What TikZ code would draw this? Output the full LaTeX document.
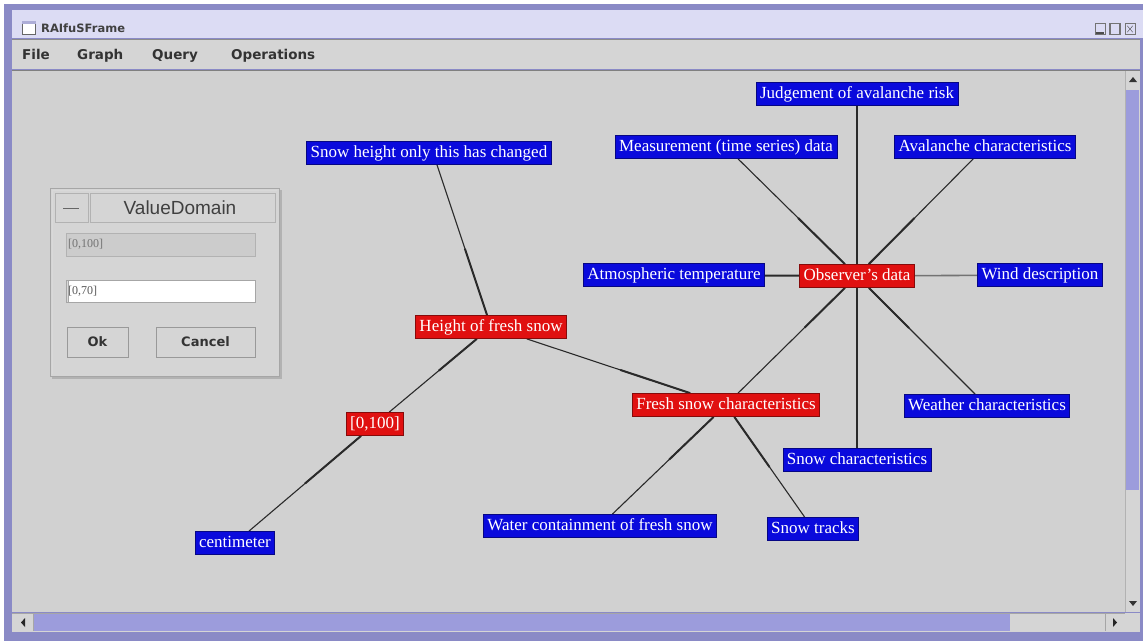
\documentclass[tikz,border=0pt]{standalone}
\usepackage{fontspec}
\setmainfont{Liberation Serif}
\setsansfont{Liberation Sans}
\newfontfamily\dejab{DejaVu Sans}
\usetikzlibrary{calc}
\definecolor{canvasc}{HTML}{D1D1D1}
\definecolor{chrome}{HTML}{D5D5D5}
\definecolor{lav}{HTML}{DCDCF4}
\definecolor{lavdark}{HTML}{8A8AC6}
\definecolor{thumbc}{HTML}{9C9CDC}
\definecolor{nblue}{HTML}{0A0ADC}
\definecolor{nred}{HTML}{E01010}
\definecolor{edgec}{HTML}{2A2A2A}
\pgfdeclarelayer{bg}
\pgfdeclarelayer{edges}
\pgfsetlayers{bg,edges,main}
\tikzset{
  gnode/.style={font=\fontsize{17}{19}\selectfont, text=white, inner xsep=4pt, inner ysep=0pt, minimum height=23pt, text height=11.5pt, text depth=3pt},
  bnode/.style={gnode, fill=nblue, draw=nblue!60!black, line width=0.8pt},
  rnode/.style={gnode, fill=nred, draw=nred!60!black, line width=0.8pt},
  thinedge/.style={draw=edgec, line width=1.1pt},
  thickedge/.style={draw=edgec, line width=2pt},
  greyedge/.style={draw=black!55, line width=1.6pt},
  menuitem/.style={font=\dejab\bfseries\fontsize{13.5}{15}\selectfont, text=black!80, inner sep=0pt, anchor=base west},
  btn/.style={draw=black!40, fill=chrome, line width=0.8pt},
  btntext/.style={font=\dejab\bfseries\fontsize{13}{15}\selectfont, text=black!80},
}
\begin{document}
\begin{tikzpicture}[x=1pt,y=-1pt]
\useasboundingbox (0,0) rectangle (1143,641);
\begin{pgfonlayer}{bg}
% window frame
\fill[white] (0,0) rectangle (1143,641);
\fill[lavdark] (4,4) rectangle (1143,641);
\fill[lav] (12,10) rectangle (1143,38);
\fill[chrome] (12,39) rectangle (1140,69);
\draw[black!45, line width=1pt] (12,39) -- (1140,39);
\draw[black!50, line width=1pt] (12,70) -- (1140,70);
\fill[canvasc] (12,71) rectangle (1125,612);
% title bar content
\node[draw=black!60, fill=white, minimum width=13pt, minimum height=13pt, inner sep=0pt, line width=0.8pt] (ticon) at (29,28) {};
\fill[lavdark!70] (ticon.north west) rectangle ($(ticon.north east)+(0,3)$);
\node[font=\dejab\bfseries\fontsize{11.5}{13}\selectfont, text=black!75, anchor=west, inner sep=0pt] (title) at (41,28) {RAIfuSFrame};
\node[draw=black!55, fill=lav, minimum width=10pt, minimum height=11pt, inner sep=0pt] (bmin) at (1100,29) {};
\draw[black!70, line width=1.5pt] ($(bmin.south west)+(1,-1.5)$) -- ($(bmin.south east)+(-1,-1.5)$);
\node[draw=black!55, fill=lav, minimum width=10pt, minimum height=11pt, inner sep=0pt, line width=1.4pt] (bmax) at (1115,29) {};
\node[draw=black!55, fill=lav, minimum width=10pt, minimum height=11pt, inner sep=0pt] (bclose) at (1130,29) {};
\draw[black!70] ($(bclose.north west)+(2.5,2.5)$) -- ($(bclose.south east)+(-2.5,-2.5)$);
\draw[black!70] ($(bclose.north east)+(-2.5,2.5)$) -- ($(bclose.south west)+(2.5,-2.5)$);
% menu
\node[menuitem] (mfile) at (22,59) {File};
\node[menuitem] (mgraph) at (77,59) {Graph};
\node[menuitem] (mquery) at (152,59) {Query};
\node[menuitem] (mops) at (231,59) {Operations};
% vertical scrollbar
\fill[chrome] (1125,71) rectangle (1140,612);
\fill[thumbc] (1126,90) rectangle (1139,490);
\draw[black!30] (1125,71) -- (1125,612);
\fill[black!80] (1129,82) -- (1137,82) -- (1133,77) -- cycle;
\fill[black!80] (1129,601) -- (1137,601) -- (1133,606) -- cycle;
% horizontal scrollbar
\fill[chrome] (12,613) rectangle (1125,632);
\fill[thumbc] (33,614) rectangle (1010,631);
\draw[black!35] (12,613) -- (1125,613);
\draw[black!35] (33,614) -- (33,631);
\draw[black!35] (1105,614) -- (1105,631);
\fill[black!85] (25,618) -- (25,627) -- (21,622.5) -- cycle;
\fill[black!85] (1113,618) -- (1113,627) -- (1117,622.5) -- cycle;
\fill[chrome] (1125,613) rectangle (1140,632);
% dialog
\fill[black!30] (52,190) rectangle (282,379);
\draw[black!35, fill=chrome, line width=1pt] (50,188) rectangle (279,376);
\draw[white!85!black, line width=1pt] (52,374) -- (52,190) -- (277,190);
\draw[black!30, fill=chrome] (55,193) rectangle (88,222);
\draw[black!30, fill=chrome] (90,193) rectangle (275,222);
\node[font=\fontsize{19}{21}\selectfont\sffamily, text=black!75] (dlgtitle) at (180,207.5) {ValueDomain};
\draw[black!60, line width=0.9pt] (63,208) -- (79,208);
\draw[black!30, fill=black!20] (66,233) rectangle (255,256);
\node[font=\fontsize{12}{14}\selectfont, text=black!55, anchor=west, inner sep=0pt] (f1) at (68,244.5) {[0,100]};
\draw[black!35, fill=white] (66,280) rectangle (255,302);
\node[font=\fontsize{12}{14}\selectfont, text=black!65, anchor=west, inner sep=0pt] (f2) at (68,291) {[0,70]};
\draw[black!35, fill=black!15] (66,280) rectangle (68,302);
\draw[btn] (67,327) rectangle (128,357);
\node[btntext] (okb) at (97.5,342) {Ok};
\draw[btn] (156,327) rectangle (255,357);
\node[btntext] (cancelb) at (205.5,342) {Cancel};
\end{pgfonlayer}

% graph nodes
\node[bnode] (jud) at (857,94) {Judgement of avalanche risk};
\node[bnode] (meas) at (726,147) {Measurement (time series) data};
\node[bnode] (aval) at (985,147) {Avalanche characteristics};
\node[bnode] (shc) at (429,153) {Snow height only this has changed};
\node[bnode] (atm) at (674,275) {Atmospheric temperature};
\node[rnode] (obs) at (857,276) {Observer's data};
\node[bnode] (wind) at (1040,275) {Wind description};
\node[rnode] (hfs) at (491,327) {Height of fresh snow};
\node[rnode] (fsc) at (726,405) {Fresh snow characteristics};
\node[bnode] (wea) at (987,406) {Weather characteristics};
\node[rnode] (rng) at (375,424) {[0,100]};
\node[bnode] (snc) at (857,460) {Snow characteristics};
\node[bnode] (wat) at (600,526) {Water containment of fresh snow};
\node[bnode] (trk) at (813,529) {Snow tracks};
\node[bnode] (cm) at (235,543) {centimeter};

\begin{pgfonlayer}{edges}
% full edges
\draw[thinedge] (433,153) -- (hfs);
\draw[thinedge] (hfs) -- (rng);
\draw[thinedge] (rng) -- (cm);
\draw[thinedge] (hfs) -- (fsc);
\draw[thinedge] (fsc) -- (obs);
\draw[thinedge] (fsc) -- (wat);
\draw[thinedge] (fsc) -- (trk);
\draw[thinedge] (obs.center) -- (jud.center);
\draw[thinedge] (obs) -- (meas);
\draw[thinedge] (obs) -- (aval);
\draw[thickedge] (obs) -- (atm);
\draw[greyedge] (obs) -- (wind);
\draw[thinedge] (obs.center) -- (snc.center);
\draw[thinedge] (obs) -- (wea);
% thicker halves near the parent ends
\draw[thickedge] (hfs) -- ($(hfs)!0.45!(433,153)$);
\draw[thickedge] (hfs) -- ($(hfs)!0.45!(rng)$);
\draw[thickedge] (rng) -- ($(rng)!0.5!(cm)$);
\draw[thickedge] (fsc) -- ($(fsc)!0.45!(hfs)$);
\draw[thickedge] (obs) -- ($(obs)!0.4!(fsc)$);
\draw[thickedge] (fsc) -- ($(fsc)!0.45!(wat)$);
\draw[thickedge] (fsc) -- ($(fsc)!0.5!(trk)$);
\draw[thickedge] (obs) -- ($(obs)!0.45!(meas)$);
\draw[thickedge] (obs) -- ($(obs)!0.45!(aval)$);
\draw[thickedge] (obs.center) -- ($(obs.center)!0.5!(snc.center)$);
\draw[thickedge] (obs) -- ($(obs)!0.4!(wea)$);
\end{pgfonlayer}
\end{tikzpicture}
\end{document}
